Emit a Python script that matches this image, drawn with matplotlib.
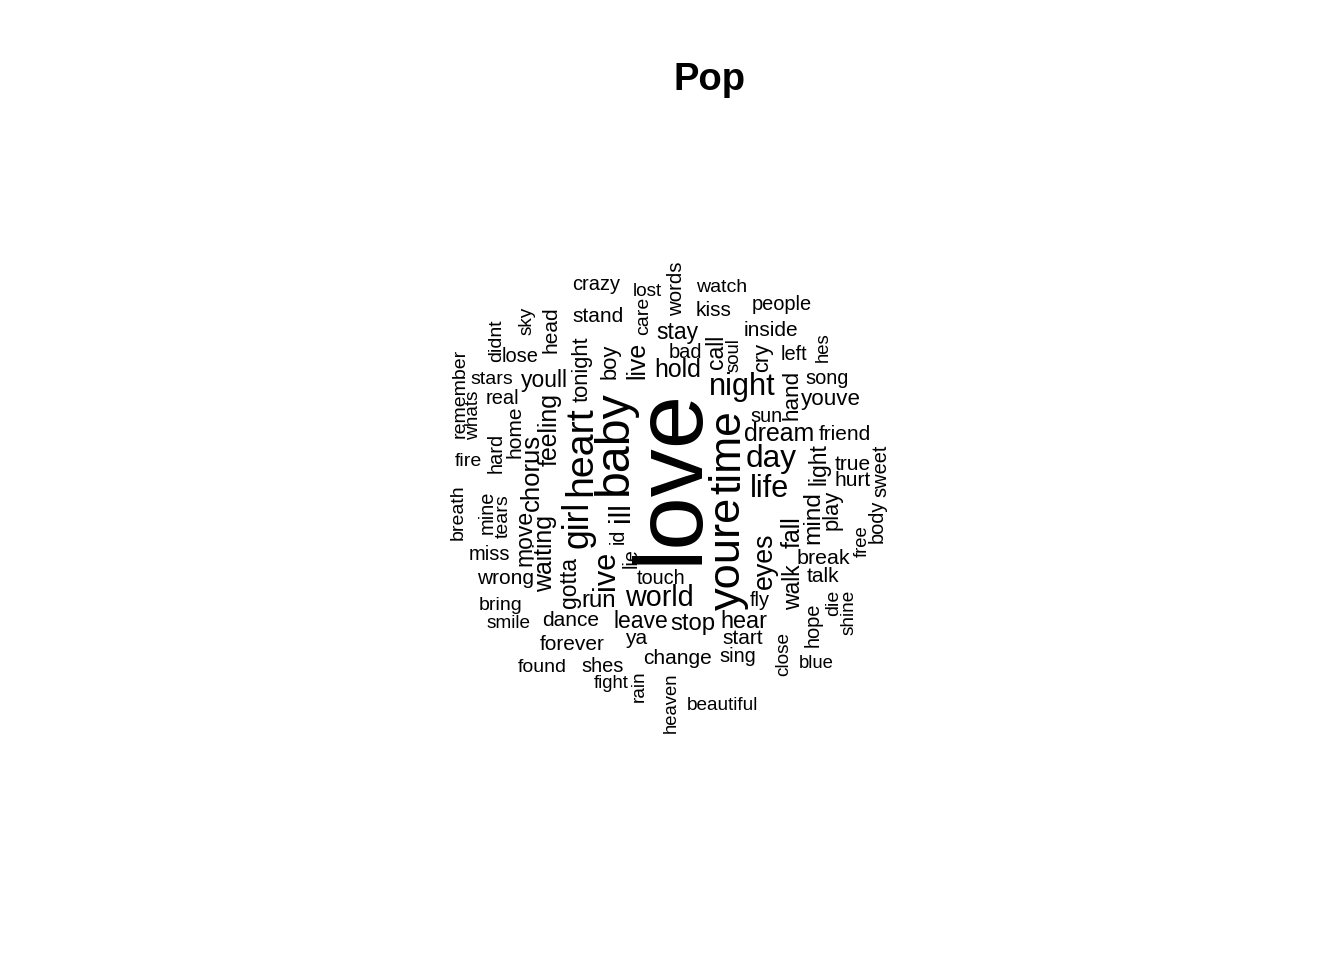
import matplotlib
matplotlib.use("Agg")
import matplotlib.pyplot as plt

# word frequencies (Pop lyrics)
words = ["love", "baby", "youre", "time", "heart", "girl", "ill", "day", "night", "life",
         "ive", "world", "eyes", "chorus", "feeling", "waiting", "hold", "dream", "live", "fall",
         "mind", "run", "stop", "hear", "youll", "stay", "leave", "move", "call", "light",
         "gotta", "walk", "hand", "youve", "tonight", "boy", "cry", "play", "break", "friend",
         "inside", "stand", "dance", "forever", "change", "kiss", "head", "home", "true", "hurt",
         "wrong", "talk", "ya", "start", "words", "touch", "people", "bad", "left", "song",
         "sun", "real", "crazy", "lose", "miss", "fly", "sing", "shes", "hard", "mine",
         "body", "sweet", "hope", "id", "lie", "watch", "fire", "bring", "found", "care",
         "didnt", "remember", "breath", "tears", "die", "stars", "lost", "smile", "sky", "whats",
         "shine", "close", "rain", "beautiful", "soul", "hes", "free", "heaven", "blue", "fight"]
freq = [1500, 612, 558, 540, 449, 377, 280, 304, 286, 286,
        286, 250, 214, 196, 178, 178, 178, 178, 178, 178,
        169, 160, 160, 151, 141, 141, 141, 141, 141, 141,
        141, 141, 132, 132, 123, 123, 123, 123, 114, 105,
        105, 105, 105, 105, 105, 105, 105, 105, 105, 105,
        105, 105, 105, 105, 96, 87, 87, 87, 87, 87,
        87, 87, 87, 87, 87, 87, 87, 87, 87, 87,
        87, 87, 87, 80, 80, 78, 78, 78, 78, 78,
        78, 78, 78, 78, 78, 78, 69, 69, 69, 69,
        69, 69, 69, 69, 60, 60, 60, 60, 60, 60]

# placement of each word in the cloud: (x px, y px, rotation)
layout = {
    "love": (671, 476, 90), "baby": (614, 443, 90), "youre": (728, 553, 90),
    "time": (729, 452, 90), "heart": (581, 451, 90), "girl": (578, 524, 90),
    "ill": (621, 512, 90), "day": (771, 459, 0), "night": (742, 387, 0),
    "life": (770, 489, 0), "ive": (606, 570, 90), "world": (659, 598, 0),
    "eyes": (765, 561, 90), "chorus": (532, 472, 90), "feeling": (550, 430, 90),
    "waiting": (545, 554, 90), "hold": (678, 370, 0), "dream": (779, 434, 0),
    "live": (637, 360, 90), "fall": (793, 532, 90), "mind": (813, 518, 90),
    "run": (599, 601, 0), "stop": (693, 624, 0), "hear": (744, 622, 0),
    "youll": (544, 381, 0), "stay": (677, 332, 0), "leave": (641, 621, 0),
    "move": (525, 538, 90), "call": (716, 352, 90), "light": (819, 464, 90),
    "gotta": (570, 582, 90), "walk": (794, 587, 90), "hand": (792, 395, 90),
    "youve": (831, 400, 0), "tonight": (582, 369, 90), "boy": (610, 361, 90),
    "cry": (763, 357, 90), "play": (832, 510, 90), "break": (823, 558, 0),
    "friend": (845, 434, 0), "inside": (771, 331, 0), "stand": (598, 317, 0),
    "dance": (571, 621, 0), "forever": (572, 644, 0), "change": (677, 658, 0),
    "kiss": (714, 311, 0), "head": (551, 330, 90), "home": (515, 432, 90),
    "true": (853, 465, 0), "hurt": (853, 481, 0), "wrong": (506, 578, 0),
    "talk": (823, 577, 0), "ya": (636, 638, 0), "start": (743, 638, 0),
    "words": (677, 289, 90), "touch": (661, 579, 0), "people": (782, 304, 0),
    "bad": (685, 352, 0), "left": (794, 354, 0), "song": (827, 378, 0),
    "sun": (766, 416, 0), "real": (502, 399, 0), "crazy": (596, 284, 0),
    "lose": (520, 356, 0), "miss": (489, 554, 0), "fly": (760, 601, 0),
    "sing": (738, 656, 0), "shes": (603, 666, 0), "hard": (496, 453, 90),
    "mine": (487, 512, 90), "body": (877, 521, 90), "sweet": (881, 471, 90),
    "hope": (813, 625, 90), "id": (618, 536, 90), "lie": (631, 558, 90),
    "watch": (722, 287, 0), "fire": (468, 462, 0), "bring": (501, 605, 0),
    "found": (542, 667, 0), "care": (644, 316, 90), "didnt": (497, 341, 90),
    "remember": (460, 393, 90), "breath": (458, 512, 90), "tears": (503, 516, 90),
    "die": (834, 603, 90), "stars": (492, 379, 0), "lost": (647, 291, 0),
    "smile": (509, 624, 0), "sky": (527, 321, 90), "whats": (474, 415, 90),
    "shine": (849, 612, 90), "close": (784, 654, 90), "rain": (639, 686, 90),
    "beautiful": (723, 706, 0), "soul": (734, 355, 90), "hes": (823, 347, 90),
    "free": (862, 541, 90), "heaven": (671, 703, 90), "blue": (816, 664, 0),
    "fight": (611, 684, 0),
}

DPI = 100
size_min, size_max = 18.5, 96.0  # text size range in pixels

fig = plt.figure(figsize=(13.44, 9.6), dpi=DPI)
ax = fig.add_axes([0, 0, 1, 1])
ax.set_xlim(0, 1344)
ax.set_ylim(960, 0)
ax.axis("off")

fmin, fmax = min(freq), max(freq)
for w, f in zip(words, freq):
    px = size_min + (size_max - size_min) * (f - fmin) / (fmax - fmin)
    x, y, rot = layout[w]
    ax.text(x, y, w, fontsize=px * 72 / DPI, family="Liberation Sans",
            rotation=rot, ha="center", va="center", color="black")

ax.text(710, 80, "Pop", fontsize=27.5, fontweight="bold", family="Liberation Sans",
        ha="center", va="center")

fig.savefig("out.png", dpi=DPI, facecolor="white")
